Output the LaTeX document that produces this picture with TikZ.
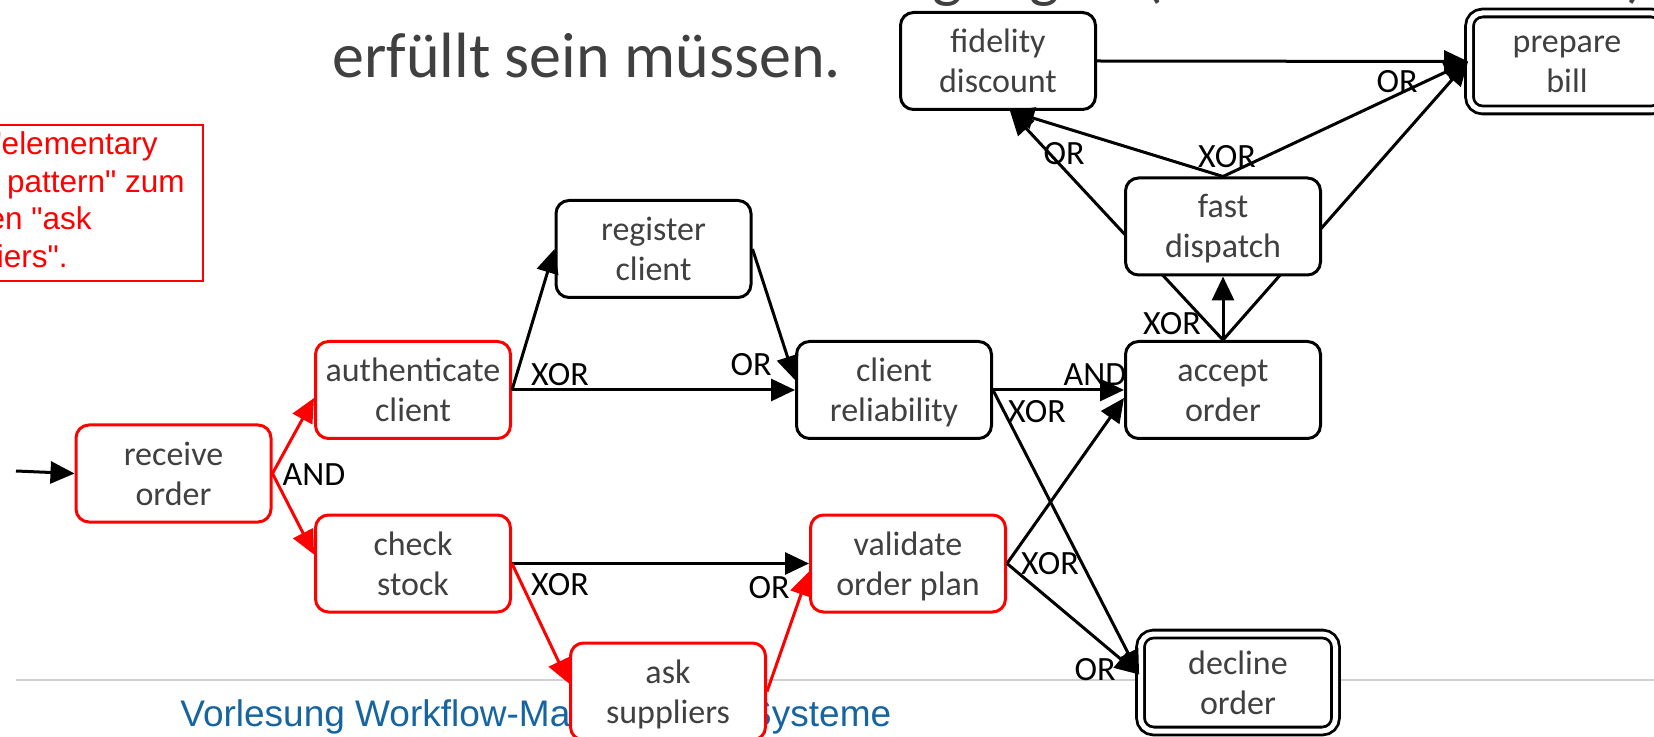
\documentclass[tikz,border=0pt]{standalone}
\usepackage{fontspec}
\setmainfont{Carlito}
\newfontfamily\notefont{Liberation Sans}
\usetikzlibrary{arrows.meta}
\definecolor{boxtext}{RGB}{64,64,64}
\definecolor{slideblue}{RGB}{22,101,160}
\definecolor{rulegray}{RGB}{208,208,208}
\definecolor{alarm}{RGB}{255,0,0}
% two centred lines with fixed top and bottom struts
\newcommand\tasklabel[2]{\rule{0pt}{15pt}#1\\#2\rule[-3.5pt]{0pt}{3.5pt}}
\begin{document}
\begin{tikzpicture}[x=0.5pt,y=-0.5pt,
  task/.style={draw=black, line width=1.5pt, rounded corners=6.5pt, fill=white,
    minimum width=97.5pt, minimum height=48.5pt, inner sep=0pt, align=center,
    text=boxtext, font=\fontsize{17pt}{20pt}\selectfont},
  redtask/.style={task, draw=alarm},
  endtask/.style={task, double=white, double distance=2.5pt, line width=1.4pt},
  flow/.style={draw=black, line width=1.5pt, -{Triangle[length=12pt,width=11pt]}},
  redflow/.style={flow, draw=alarm},
  gate/.style={inner sep=0pt, text=black, font=\fontsize{17pt}{19.5pt}\selectfont},
  note/.style={inner sep=0pt, text=alarm, font=\notefont\fontsize{15.75pt}{19pt}\selectfont},
  headline/.style={inner sep=0pt, text=boxtext, font=\fontsize{32pt}{38pt}\selectfont},
]
\useasboundingbox (0,0) rectangle (1654,737);
\fill[white] (0,0) rectangle (1654,737);
\clip (0,0) rectangle (1654,737);

% slide footer
\draw[rulegray, line width=1pt] (16,680) -- (1654,680);
\node[anchor=base west, inner sep=0pt, text=slideblue,
      font=\notefont\fontsize{18.5pt}{22pt}\selectfont] (footer) at (180,726)
      {Vorlesung Workflow-Management-Systeme};

% slide heading
\node[headline, anchor=base west] (hg1) at (932,-4) {g};
\node[headline, anchor=base west] (hg2) at (1029,-4) {g};
\node[headline, anchor=base west] (hp1) at (1143,-4) {(};
\node[headline, anchor=base west] (hp2) at (1626,-4) {)};
\node[headline, anchor=base west] (title) at (332,78) {erfüllt sein müssen.};

% remark
\draw[alarm, line width=1pt] (-40,125) rectangle (203,281);
\node[note, anchor=base east] (note1) at (158,155) {Ein "elementary};
\node[note, anchor=base east] (note2) at (185,193) {workflow pattern" zum};
\node[note, anchor=base east] (note3) at (92,230) {Aufrufen "ask};
\node[note, anchor=base east] (note4) at (68,268) {suppliers".};

% activities
\node[redtask] (recv)  at (173.5,473.5) {\tasklabel{receive}{order}};
\node[redtask] (auth)  at (413,390)     {\tasklabel{authenticate}{client}};
\node[redtask] (check) at (413,563.5)   {\tasklabel{check}{stock}};
\node[redtask] (ask)   at (668,691.5)   {\tasklabel{ask}{suppliers}};
\node[task]    (reg)   at (653.5,249)   {\tasklabel{register}{client}};
\node[task]    (rel)   at (894,390)     {\tasklabel{client}{reliability}};
\node[redtask] (val)   at (908,563.5)   {\tasklabel{validate}{order plan}};
\node[task]    (acc)   at (1223,390)    {\tasklabel{accept}{order}};
\node[task]    (fid)   at (998,61)      {\tasklabel{fidelity}{discount}};
\node[endtask] (bill)  at (1567,61.5)   {\tasklabel{prepare}{bill}};
\node[endtask] (decl)  at (1238,682.5)  {\tasklabel{decline}{order}};

% flows running behind "fast dispatch"
\draw[flow] (acc.north) -- ([xshift=6pt]fid.south);
\draw[flow] (acc.north) -- (bill.west);
\node[task]    (fast)  at (1223,226.5)  {\tasklabel{fast}{dispatch}};

% remaining flows
\coordinate (start) at (16,471);
\draw[flow] (start) -- (recv.west);
\draw[redflow] (recv.east) -- ([yshift=-4pt]auth.west);
\draw[redflow] (recv.east) -- ([yshift=4.5pt]check.west);
\draw[flow] (auth.east) -- (reg.west);
\draw[flow] (auth.east) -- (rel.west);
\draw[flow] (reg.east) -- ([yshift=5pt]rel.west);
\draw[flow] (check.east) -- (val.west);
\draw[redflow] (check.east) -- ([yshift=4pt]ask.west);
\draw[redflow] (ask.east) -- ([yshift=-4pt]val.west);
\draw[flow] (rel.east) -- (acc.west);
\draw[flow] (rel.east) -- ([yshift=4pt]decl.west);
\draw[flow] (val.east) -- ([yshift=-4pt]acc.west);
\draw[flow] (val.east) -- ([yshift=4pt]decl.west);
\draw[flow] (acc.north) -- (fast.south);
\draw[flow] (fast.north) -- ([xshift=6pt]fid.south);
\draw[flow] (fast.north) -- (bill.west);
\draw[flow] (fid.east) -- (bill.west);

% split and join types
\node[gate] (gRecv)  at (314,475)  {AND};
\node[gate] (gAuth)  at (560,375)  {XOR};
\node[gate] (gRel1)  at (751,365)  {OR};
\node[gate] (gCheck) at (560,585)  {XOR};
\node[gate] (gVal1)  at (769,588)  {OR};
\node[gate] (gAcc1)  at (1095,375) {AND};
\node[gate] (gRel2)  at (1037,412) {XOR};
\node[gate] (gVal2)  at (1050,564) {XOR};
\node[gate] (gDecl)  at (1095,670) {OR};
\node[gate] (gAcc2)  at (1172,324) {XOR};
\node[gate] (gFid)   at (1064,154) {OR};
\node[gate] (gFast)  at (1227,157) {XOR};
\node[gate] (gBill)  at (1397,82)  {OR};
\end{tikzpicture}
\end{document}
